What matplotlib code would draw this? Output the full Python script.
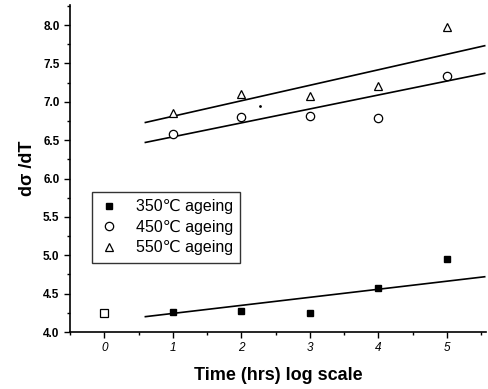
import matplotlib
matplotlib.use('Agg')
import matplotlib.pyplot as plt
from matplotlib.ticker import MultipleLocator

plt.rcParams['font.family'] = ['Liberation Sans', 'DejaVu Sans']

# ageing time (log scale index) and d(sigma)/dT values
t = [1, 2, 3, 4, 5]
y350 = [4.26, 4.28, 4.25, 4.57, 4.95]
y450 = [6.58, 6.80, 6.82, 6.79, 7.33]
y550 = [6.86, 7.10, 7.07, 7.21, 7.98]
t0, y0 = [0], [4.25]          # as-received point (open square)
stray_x, stray_y = [2.27], [6.95]

# fitted lines
fit_x = [0.6, 5.55]
fit350 = [4.20, 4.72]
fit450 = [6.47, 7.37]
fit550 = [6.73, 7.73]

fig = plt.figure(figsize=(4.88, 3.89), dpi=100)
ax = fig.add_axes([0.1434, 0.1465, 0.8526, 0.8405])

ax.plot(fit_x, fit350, color='black', lw=1.2)
ax.plot(fit_x, fit450, color='black', lw=1.2)
ax.plot(fit_x, fit550, color='black', lw=1.2)

ax.plot(t, y350, 's', color='black', ms=5, label='350℃ ageing')
ax.plot(t, y450, 'o', mfc='white', mec='black', mew=0.9, ms=6, label='450℃ ageing')
ax.plot(t, y550, '^', mfc='white', mec='black', mew=0.9, ms=6, label='550℃ ageing')
ax.plot(t0, y0, 's', mfc='white', mec='black', mew=0.9, ms=5.5)
ax.plot(stray_x, stray_y, '.', color='black', ms=2)

ax.set_xlim(-0.5, 5.57)
ax.set_ylim(4.0, 8.26)
ax.xaxis.set_major_locator(MultipleLocator(1))
ax.xaxis.set_minor_locator(MultipleLocator(0.5))
ax.yaxis.set_major_locator(MultipleLocator(0.5))
ax.yaxis.set_minor_locator(MultipleLocator(0.25))
ax.tick_params(which='major', direction='out', length=4, width=1, labelsize=8.5)
ax.tick_params(which='minor', direction='out', length=2.5, width=1)
for lab in ax.get_xticklabels():
    lab.set_fontstyle('italic')
for lab in ax.get_yticklabels():
    lab.set_fontweight('bold')

ax.spines['top'].set_visible(False)
ax.spines['right'].set_visible(False)
ax.spines['left'].set_linewidth(1.2)
ax.spines['bottom'].set_linewidth(1.2)

ax.set_xlabel('Time (hrs) log scale', fontsize=13, fontweight='bold', labelpad=9)
ax.set_ylabel('dσ /dT', fontsize=13, fontweight='bold', labelpad=5)

leg = ax.legend(loc='upper left', bbox_to_anchor=(0.052, 0.428), fontsize=11.5,
                frameon=True, fancybox=False, edgecolor='black',
                handletextpad=1.0, borderpad=0.45, labelspacing=0.35, handlelength=1.3,
                borderaxespad=0)
leg.get_frame().set_linewidth(1.0)

fig.savefig('out.png', dpi=100)
